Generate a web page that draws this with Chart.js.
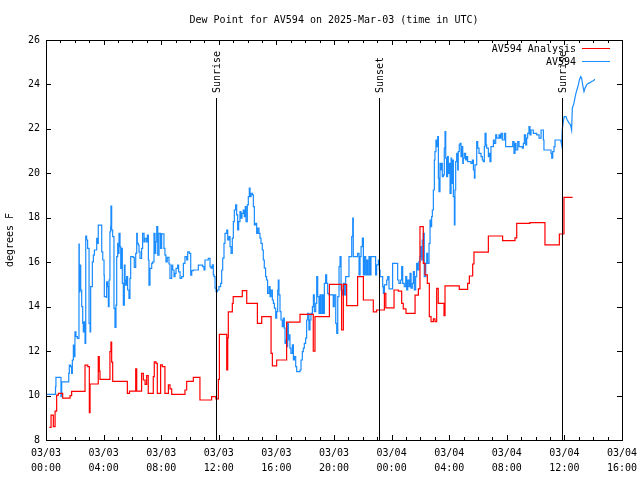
<!DOCTYPE html>
<html>
<head>
<meta charset="utf-8">
<script src="https://cdn.jsdelivr.net/npm/chart.js@4.4.1/dist/chart.umd.min.js"></script>
<style>
  body { margin: 0; background: #fff; }
  canvas { display: block; }
</style>
</head>
<body>
<canvas id="dew-chart" width="640" height="480"></canvas>
<script>
// x values are hours after 03/03 00:00 UTC, y values are degrees F
const chart_title = 'Dew Point for AV594 on 2025-Mar-03 (time in UTC)';
const day_labels = ['03/03', '03/03', '03/03', '03/03', '03/03', '03/03', '03/04', '03/04', '03/04', '03/04', '03/04'];
const time_labels = ['00:00', '04:00', '08:00', '12:00', '16:00', '20:00', '00:00', '04:00', '08:00', '12:00', '16:00'];

const event_labels = ['Sunrise', 'Sunset', 'Sunrise'];
const event_hours = [11.83, 23.15, 35.81];

const analysis = [
  [0.23, 8.57], [0.35, 9.12], [0.51, 8.6], [0.63, 9.3], [0.74, 10.02], [0.86, 10.1], [1.16, 9.88], [1.67, 10.0],
  [1.78, 10.19], [2.71, 11.37], [2.9, 11.3], [3.01, 9.23], [3.06, 10.52], [3.63, 11.75], [3.70, 11.1], [3.75, 10.73],
  [4.44, 11.98], [4.51, 12.4], [4.56, 11.5], [4.63, 10.64], [5.65, 10.1], [5.8, 10.2], [6.23, 11.2], [6.30, 10.2],
  [6.64, 11.0], [6.76, 10.7], [6.88, 10.5], [6.99, 10.9], [7.1, 10.1], [7.45, 10.85], [7.52, 11.52], [7.64, 11.45],
  [7.73, 10.1], [7.96, 11.38], [8.08, 11.3], [8.26, 10.1], [8.5, 10.48], [8.61, 10.3], [8.73, 10.05], [9.65, 10.25],
  [9.77, 10.64], [10.23, 10.82], [10.69, 9.8], [11.5, 9.95], [11.8, 9.85], [11.97, 10.73], [12.04, 12.75], [12.55, 11.15],
  [12.62, 12.6], [12.66, 13.77], [12.94, 14.15], [13.0, 14.45], [13.63, 14.72], [13.94, 14.15], [14.68, 13.25], [14.98, 13.55],
  [15.63, 11.9], [15.72, 11.34], [16.02, 11.6], [16.71, 13.3], [17.64, 13.65], [18.56, 12.0], [18.68, 13.55], [19.68, 15.0],
  [20.53, 12.95], [20.65, 15.0], [20.88, 14.05], [21.64, 15.35], [22.04, 14.3], [22.73, 13.77], [22.96, 13.85], [23.5, 14.6],
  [23.6, 13.95], [24.17, 14.75], [24.47, 14.7], [24.7, 14.15], [24.81, 13.9], [25.0, 13.7], [25.63, 14.52], [25.86, 14.8],
  [25.97, 17.6], [26.2, 15.95], [26.32, 15.43], [26.48, 15.05], [26.62, 13.55], [26.74, 13.33], [26.9, 13.45], [27.01, 13.33],
  [27.13, 14.82], [27.24, 14.15], [27.64, 13.6], [27.71, 14.94], [28.7, 14.78], [29.28, 15.05], [29.4, 15.38], [29.63, 15.92],
  [29.72, 16.45], [30.72, 17.18], [31.71, 16.97], [32.57, 17.1], [32.69, 17.75], [33.61, 17.78], [34.65, 16.78], [35.65, 17.27],
  [35.97, 18.92], [36.57, 18.92]
];

const observed = [
  [0.0, 10.05], [0.63, 10.05], [0.66, 10.4], [0.69, 10.82], [1.02, 10.82], [1.04, 9.95], [1.09, 10.62], [1.55, 10.62],
  [1.58, 11.0], [1.62, 11.37], [1.71, 11.3], [1.78, 11.0], [1.83, 11.6], [1.90, 12.27], [1.97, 11.75], [2.01, 12.87],
  [2.08, 12.65], [2.18, 12.57], [2.29, 16.82], [2.31, 14.67], [2.36, 15.87], [2.41, 14.75], [2.48, 14.0], [2.55, 13.25],
  [2.59, 12.87], [2.64, 13.32], [2.71, 12.35], [2.76, 17.18], [2.82, 17.0], [2.89, 16.62], [2.99, 13.25], [3.06, 12.87],
  [3.10, 14.9], [3.22, 16.02], [3.29, 16.32], [3.36, 16.55], [3.52, 17.07], [3.59, 16.85], [3.63, 17.67], [3.85, 17.67],
  [3.87, 16.47], [3.94, 16.1], [4.03, 15.42], [4.05, 14.45], [4.19, 14.42], [4.21, 15.12], [4.28, 14.9], [4.33, 14.0],
  [4.38, 15.2], [4.44, 17.37], [4.49, 17.6], [4.51, 18.53], [4.56, 17.45], [4.63, 17.15], [4.72, 13.92], [4.79, 13.07],
  [4.86, 14.07], [4.91, 16.25], [4.98, 16.85], [5.02, 16.4], [5.07, 17.3], [5.14, 16.7], [5.19, 15.72], [5.23, 16.62],
  [5.30, 15.05], [5.37, 14.07], [5.44, 15.87], [5.49, 15.2], [5.53, 14.97], [5.60, 15.35], [5.67, 14.75], [5.76, 14.37],
  [5.83, 15.27], [5.88, 16.25], [6.05, 16.22], [6.13, 15.77], [6.23, 16.4], [6.30, 17.3], [6.34, 16.85], [6.41, 16.77],
  [6.46, 16.47], [6.53, 16.17], [6.64, 16.62], [6.71, 17.3], [6.81, 16.92], [6.88, 17.07], [6.99, 16.92], [7.04, 17.22],
  [7.11, 16.1], [7.15, 14.97], [7.22, 15.72], [7.34, 15.95], [7.41, 16.02], [7.50, 17.3], [7.57, 16.4], [7.62, 16.92],
  [7.69, 17.6], [7.76, 16.32], [7.85, 17.3], [7.96, 16.62], [8.03, 17.28], [8.15, 17.28], [8.19, 16.62], [8.26, 16.32],
  [8.33, 16.02], [8.42, 16.22], [8.54, 15.92], [8.61, 15.27], [8.73, 15.87], [8.80, 15.65], [8.89, 15.35], [8.96, 15.5],
  [9.03, 15.72], [9.14, 15.87], [9.21, 15.57], [9.31, 15.27], [9.42, 15.35], [9.54, 15.95], [9.65, 16.25], [9.77, 16.1],
  [9.84, 16.47], [9.95, 16.4], [10.05, 15.42], [10.12, 15.62], [10.23, 15.65], [10.54, 15.65], [10.58, 15.87], [10.85, 15.87],
  [10.88, 15.8], [10.97, 15.65], [11.04, 16.1], [11.27, 16.17], [11.39, 15.8],
  [11.46, 15.73], [11.55, 15.88], [11.62, 15.43], [11.67, 15.35], [11.74, 14.83], [11.81, 14.68], [11.90, 14.75], [12.01, 14.9],
  [12.13, 15.05], [12.2, 15.65], [12.27, 16.18], [12.36, 16.85], [12.43, 17.3], [12.55, 17.45], [12.62, 17.0], [12.71, 17.15],
  [12.78, 16.7], [12.85, 16.4], [12.94, 17.08], [13.01, 17.83], [13.08, 18.35], [13.17, 18.58], [13.24, 18.13], [13.31, 17.45],
  [13.38, 17.83], [13.47, 18.28], [13.54, 17.98], [13.61, 18.2], [13.70, 18.35], [13.77, 18.05], [13.84, 18.5], [13.89, 17.83],
  [13.98, 18.58], [14.05, 18.95], [14.12, 19.33], [14.17, 18.95], [14.24, 19.1], [14.33, 19.03], [14.4, 18.5], [14.47, 17.68],
  [14.56, 17.75], [14.63, 17.3], [14.7, 17.53], [14.79, 17.3], [14.86, 17.08], [14.93, 16.85], [15.02, 16.55], [15.09, 16.1],
  [15.16, 15.73], [15.25, 15.35], [15.32, 15.2], [15.39, 14.6], [15.49, 14.9], [15.56, 14.45], [15.63, 14.75], [15.72, 14.3],
  [15.79, 14.15], [15.86, 13.93], [15.95, 13.48], [16.02, 13.78], [16.09, 14.75], [16.13, 15.2], [16.18, 14.53], [16.25, 13.78],
  [16.32, 13.4], [16.41, 13.1], [16.48, 13.48], [16.55, 13.03], [16.6, 12.35], [16.64, 12.5], [16.71, 12.2], [16.78, 13.25],
  [16.83, 12.5], [16.9, 12.73], [16.94, 12.13], [17.01, 11.9], [17.11, 12.28], [17.18, 11.6], [17.25, 11.75], [17.34, 11.3],
  [17.41, 11.08], [17.64, 11.15], [17.71, 11.6], [17.8, 11.98], [17.87, 12.13], [17.94, 12.35], [18.03, 12.58], [18.1, 13.4],
  [18.17, 13.7], [18.26, 12.95], [18.33, 13.4], [18.4, 13.7], [18.5, 14.0], [18.57, 14.53], [18.63, 13.78], [18.73, 14.15],
  [18.80, 15.35], [18.87, 14.45], [18.96, 13.7], [19.03, 14.53], [19.1, 13.7], [19.19, 14.53], [19.26, 13.7], [19.33, 15.05],
  [19.42, 15.43], [19.49, 15.05], [19.56, 14.6], [19.65, 14.53], [19.95, 14.0], [20.02, 14.53], [20.12, 13.25], [20.19, 12.8],
  [20.26, 14.45], [20.35, 15.8], [20.42, 16.25], [20.49, 14.75], [20.58, 14.53], [20.65, 15.05], [20.72, 14.53], [20.81, 15.35],
  [21.04, 16.25], [21.23, 17.15], [21.3, 17.98], [21.34, 16.25], [21.64, 16.4], [21.74, 15.43], [21.81, 16.25], [21.88, 16.7],
  [21.97, 17.08], [22.04, 15.43], [22.11, 16.25], [22.2, 15.43], [22.27, 16.1], [22.34, 15.43], [22.43, 16.25], [22.5, 15.43],
  [22.57, 16.25], [22.85, 16.25], [22.89, 15.43], [22.96, 15.88], [23.08, 16.1], [23.15, 15.65], [23.2, 15.35], [23.38, 14.9],
  [23.43, 14.6], [23.5, 14.98], [23.66, 15.2], [23.73, 15.35], [23.82, 14.8], [24.0, 14.8],
  [24.07, 15.95], [24.35, 15.95], [24.42, 15.2], [24.51, 15.05], [24.63, 15.2], [24.7, 15.8], [24.77, 15.05], [24.88, 14.9],
  [24.98, 15.35], [25.05, 14.75], [25.12, 15.2], [25.21, 14.9], [25.28, 15.5], [25.35, 14.83], [25.44, 15.05], [25.51, 15.58],
  [25.58, 14.75], [25.67, 15.35], [25.74, 15.95], [25.81, 15.65], [25.9, 16.03], [25.97, 16.25], [26.02, 16.7], [26.09, 16.1],
  [26.13, 17.0], [26.2, 17.3], [26.27, 15.35], [26.37, 15.95], [26.44, 16.4], [26.5, 15.95], [26.6, 16.85], [26.67, 17.9],
  [26.74, 17.6], [26.78, 18.05], [26.83, 18.35], [26.9, 19.25], [26.97, 20.6], [27.01, 20.98], [27.08, 21.5], [27.13, 21.2],
  [27.2, 21.65], [27.25, 19.78], [27.29, 19.18], [27.36, 20.45], [27.43, 20.15], [27.48, 20.45], [27.52, 19.85], [27.59, 19.93],
  [27.66, 21.13], [27.71, 21.88], [27.76, 20.68], [27.82, 19.85], [27.89, 20.75], [27.94, 20.0], [27.99, 20.45], [28.06, 19.1],
  [28.13, 20.68], [28.17, 19.55], [28.22, 20.6], [28.29, 18.95], [28.36, 17.68], [28.4, 19.25], [28.45, 20.53], [28.52, 20.9],
  [28.59, 20.15], [28.63, 20.98], [28.7, 21.28], [28.75, 21.35], [28.82, 20.75], [28.87, 21.2], [28.94, 20.45], [28.98, 20.68],
  [29.05, 20.9], [29.14, 20.6], [29.21, 20.75], [29.28, 20.53], [29.51, 20.45], [29.61, 20.6], [29.68, 20.15], [29.75, 19.78],
  [29.79, 20.38], [29.91, 21.43], [29.98, 21.13], [30.07, 20.9], [30.21, 20.75], [30.3, 20.6], [30.37, 20.53], [30.44, 21.2],
  [30.49, 21.8], [30.56, 21.28], [30.6, 21.13], [30.72, 20.75], [30.79, 20.9], [30.83, 20.53], [30.9, 21.2], [31.07, 21.5],
  [31.13, 21.35], [31.23, 21.73], [31.3, 21.58], [31.46, 21.73], [31.53, 21.58], [31.6, 21.8], [31.69, 21.5], [31.83, 21.8],
  [31.92, 21.2], [32.34, 21.2], [32.41, 21.43], [32.5, 20.9], [32.57, 21.35], [32.64, 21.05], [32.76, 21.43], [32.85, 21.2],
  [33.08, 21.13], [33.15, 21.35], [33.22, 21.73], [33.31, 21.28], [33.38, 21.58], [33.45, 21.8], [33.54, 22.1], [33.61, 21.73],
  [33.68, 21.95], [33.84, 21.8], [34.08, 21.73], [34.24, 21.58], [34.38, 21.95], [34.47, 21.95], [34.54, 21.5], [34.58, 21.05],
  [35.0, 21.05], [35.07, 20.9], [35.12, 20.68], [35.19, 20.98], [35.28, 21.2], [35.35, 21.5], [35.74, 21.5]
];

// last part of the observations is joined by straight segments, not steps
const observed_tail = [
  [35.74, 21.5], [35.81, 21.27], [35.85, 21.95], [35.92, 22.33], [35.99, 22.55], [36.11, 22.55], [36.2, 22.4], [36.34, 22.25],
  [36.43, 22.18], [36.5, 21.95], [36.55, 22.93], [36.66, 23.15], [36.73, 23.38], [36.8, 23.6], [36.9, 23.83], [36.97, 23.98],
  [37.04, 24.2], [37.13, 24.35], [37.2, 24.28], [37.27, 23.98], [37.36, 23.68], [37.43, 23.83], [37.54, 23.98], [37.66, 24.05],
  [37.78, 24.08], [37.89, 24.13], [38.01, 24.17], [38.12, 24.23]
];

const red = '#ff0000';
const blue = '#1a8cff';
const mono = 'DejaVu Sans Mono';

Chart.defaults.font.family = mono;
Chart.defaults.font.size = 10;
Chart.defaults.color = '#000';

const toPoints = function (a) { return a.map(function (p) { return { x: p[0], y: p[1] }; }); };

function crisp(v) { return Math.round(v) + 0.5; }

// title, frame, inward tics, sun events and the key, drawn like gnuplot does
const gnuplotDecor = {
  id: 'gnuplotDecor',
  afterDatasetsDraw(chart) {
    const ctx = chart.ctx;
    const a = chart.chartArea;
    const xs = chart.scales.x;
    const ys = chart.scales.y;
    ctx.save();
    ctx.strokeStyle = '#000';
    ctx.lineWidth = 1;
    ctx.font = '10px ' + mono;
    ctx.fillStyle = '#000';

    ctx.textAlign = 'center';
    ctx.textBaseline = 'middle';
    ctx.fillText(chart_title, (a.left + a.right) / 2, 20);

    ctx.beginPath();
    for (const t of xs.ticks) {
      const px = crisp(xs.getPixelForValue(t.value));
      const len = (t.value % 4 === 0) ? 5 : 3;
      ctx.moveTo(px, a.bottom); ctx.lineTo(px, a.bottom - len);
      ctx.moveTo(px, a.top); ctx.lineTo(px, a.top + len);
    }
    for (const t of ys.ticks) {
      const py = crisp(ys.getPixelForValue(t.value));
      ctx.moveTo(a.left, py); ctx.lineTo(a.left + 5, py);
      ctx.moveTo(a.right, py); ctx.lineTo(a.right - 5, py);
    }
    ctx.stroke();

    // sunrise / sunset markers
    ctx.textAlign = 'left';
    for (let i = 0; i < event_hours.length; i++) {
      const px = crisp(xs.getPixelForValue(event_hours[i]));
      ctx.beginPath();
      ctx.moveTo(px, 98);
      ctx.lineTo(px, a.bottom);
      ctx.stroke();
      ctx.save();
      ctx.translate(px + 0.5, 93);
      ctx.rotate(-Math.PI / 2);
      ctx.fillText(event_labels[i], 0, 0);
      ctx.restore();
    }

    ctx.strokeRect(crisp(a.left), crisp(a.top), Math.round(a.right - a.left), Math.round(a.bottom - a.top));

    // key
    const keys = [chart.data.datasets[0], chart.data.datasets[1]];
    ctx.textAlign = 'right';
    for (let i = 0; i < keys.length; i++) {
      const ky = 49 + i * 13;
      ctx.fillStyle = '#000';
      ctx.fillText(keys[i].label, 576, ky);
      ctx.strokeStyle = keys[i].borderColor;
      ctx.beginPath();
      ctx.moveTo(582, crisp(ky - 1));
      ctx.lineTo(610, crisp(ky - 1));
      ctx.stroke();
    }
    ctx.restore();
  }
};

new Chart(document.getElementById('dew-chart'), {
  type: 'line',
  data: {
    datasets: [
      {
        label: 'AV594 Analysis',
        data: toPoints(analysis),
        borderColor: red,
        borderWidth: 1.2,
        stepped: 'before',
        pointRadius: 0,
        fill: false
      },
      {
        label: 'AV594',
        data: toPoints(observed),
        borderColor: blue,
        borderWidth: 1.2,
        stepped: 'before',
        pointRadius: 0,
        fill: false
      },
      {
        label: 'AV594 tail',
        data: toPoints(observed_tail),
        borderColor: blue,
        borderWidth: 1.2,
        pointRadius: 0,
        fill: false
      }
    ]
  },
  options: {
    responsive: false,
    animation: false,
    layout: { padding: { left: 0, right: 18, top: 40, bottom: 0 } },
    plugins: {
      legend: { display: false },
      tooltip: { enabled: false },
      title: { display: false }
    },
    scales: {
      x: {
        type: 'linear',
        min: 0,
        max: 40,
        grid: { display: false, drawTicks: false },
        border: { display: false },
        afterFit: function (scale) {
          scale.height = 40;
          scale.paddingLeft = 0;
          scale.paddingRight = 0;
        },
        ticks: {
          stepSize: 1,
          autoSkip: false,
          maxRotation: 0,
          padding: 6,
          font: { size: 10, lineHeight: 1.5 },
          callback: function (v) {
            if (v % 4 !== 0) return '';
            return [day_labels[v / 4], time_labels[v / 4]];
          }
        }
      },
      y: {
        min: 8,
        max: 26,
        grid: { display: false, drawTicks: false },
        border: { display: false },
        afterFit: function (scale) { scale.width = 46; },
        title: { display: true, text: 'degrees F', padding: { top: 4, bottom: 0 } },
        ticks: { stepSize: 2, padding: 6 }
      }
    }
  },
  plugins: [gnuplotDecor]
});
</script>
</body>
</html>
